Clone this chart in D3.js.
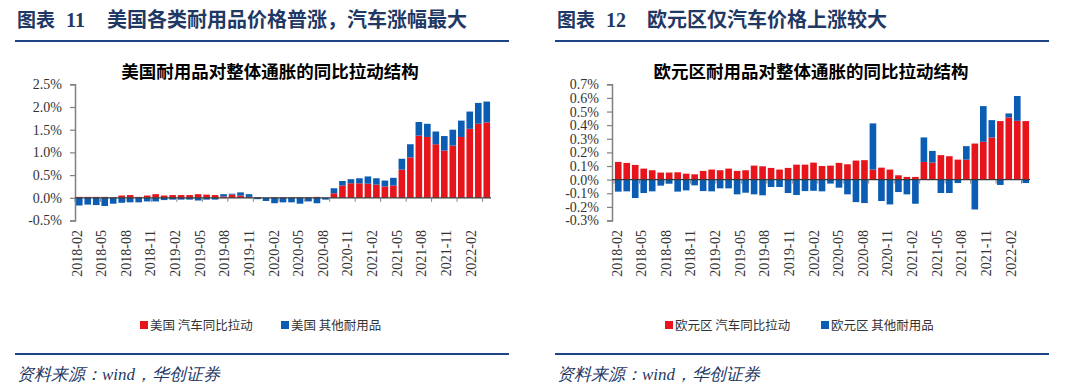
<!DOCTYPE html>
<html>
<head>
<meta charset="utf-8">
<script src="https://cdn.jsdelivr.net/npm/d3@7"></script>
<style>
  body { margin: 0; background: #fff; }
  svg { display: block; }
</style>
</head>
<body>
<div id="chart"></div>
<script>
// monthly categories, 2018-02 .. 2022-02
var months = [
    '2018-02', '2018-03', '2018-04', '2018-05', '2018-06', '2018-07', '2018-08', '2018-09', '2018-10', '2018-11', '2018-12',
    '2019-01', '2019-02', '2019-03', '2019-04', '2019-05', '2019-06', '2019-07', '2019-08', '2019-09', '2019-10', '2019-11', '2019-12',
    '2020-01', '2020-02', '2020-03', '2020-04', '2020-05', '2020-06', '2020-07', '2020-08', '2020-09', '2020-10', '2020-11', '2020-12',
    '2021-01', '2021-02', '2021-03', '2021-04', '2021-05', '2021-06', '2021-07', '2021-08', '2021-09', '2021-10', '2021-11', '2021-12',
    '2022-01', '2022-02'
];
var tickLabels = [
    '2018-02', '2018-05', '2018-08', '2018-11', '2019-02', '2019-05', '2019-08', '2019-11',
    '2020-02', '2020-05', '2020-08', '2020-11', '2021-02', '2021-05', '2021-08', '2021-11', '2022-02'
];

// US, pct points
var usCar = [
    0.02, 0.02, 0.02, 0.02, 0.01, 0.05, 0.06, 0.02, 0.05, 0.08, 0.05, 0.06, 0.06, 0.06, 0.08, 0.07, 0.06,
    0.03, 0.07, 0.05, 0.02, 0.01, 0.00, 0.01, 0.01, 0.01, 0.01, 0.01, 0.02, 0.00, 0.10, 0.27, 0.32,
    0.32, 0.31, 0.29, 0.25, 0.27, 0.62, 0.89, 1.37, 1.34, 1.18, 1.04, 1.15, 1.34, 1.52, 1.63, 1.66
];
var usOther = [
    -0.17, -0.15, -0.16, -0.18, -0.13, -0.11, -0.10, -0.10, -0.08, -0.08, -0.05, -0.04, -0.04, -0.04, -0.06, -0.04, -0.04,
    0.05, 0.02, 0.07, 0.06, -0.03, -0.07, -0.12, -0.10, -0.10, -0.13, -0.08, -0.12, -0.04, 0.11, 0.10, 0.09,
    0.11, 0.16, 0.14, 0.13, 0.17, 0.24, 0.29, 0.30, 0.29, 0.28, 0.32, 0.35, 0.36, 0.38, 0.46, 0.46
];
var usTicks = [-0.5, 0.0, 0.5, 1.0, 1.5, 2.0, 2.5];

// Euro area, pct points
var euCar = [
    0.130, 0.123, 0.108, 0.081, 0.069, 0.052, 0.052, 0.054, 0.044, 0.039, 0.064, 0.074, 0.069, 0.081, 0.064, 0.069, 0.103,
    0.098, 0.086, 0.074, 0.086, 0.110, 0.110, 0.125, 0.100, 0.103, 0.123, 0.113, 0.140, 0.143, 0.074, 0.088, 0.074,
    0.032, 0.020, 0.020, 0.130, 0.125, 0.180, 0.172, 0.147, 0.147, 0.265, 0.278, 0.310, 0.430, 0.457, 0.432, 0.430
];
var euOther = [
    -0.088, -0.086, -0.135, -0.098, -0.086, -0.044, -0.030, -0.088, -0.079, -0.042, -0.084, -0.086, -0.064, -0.064, -0.108, -0.096, -0.108,
    -0.115, -0.054, -0.054, -0.098, -0.113, -0.084, -0.082, -0.086, -0.029, -0.059, -0.108, -0.165, -0.172, 0.339, -0.157, -0.182,
    -0.091, -0.108, -0.177, 0.180, 0.086, -0.098, -0.098, -0.025, 0.099, -0.219, 0.262, 0.127, -0.039, 0.029, 0.182, -0.025
];
var euTicks = [-0.3, -0.2, -0.1, 0.0, 0.1, 0.2, 0.3, 0.4, 0.5, 0.6, 0.7];

var red = '#e8141c';
var blue = '#0b5cb3';
var navy = '#1d4486';

var width = 1080;
var height = 390;

var svg = d3.select('#chart').append('svg')
    .attr('width', width)
    .attr('height', height);

var serif = '"Liberation Serif", "Times New Roman", serif';
var cjk = '"Noto Sans CJK SC", sans-serif';

function pct(v) {
    var s = Math.abs(v).toFixed(1) + '%';
    return (v < -1e-9 ? '-' : '') + s;
}

function drawPanel(o) {
    var g = svg.append('g').attr('transform', 'translate(' + o.dx + ',0)');

    // heading + rules
    g.append('text')
        .attr('x', 17).attr('y', 27)
        .attr('font-family', cjk).attr('font-weight', 'bold')
        .attr('font-size', 19).attr('fill', '#1f3864')
        .text('图表');
    g.append('text')
        .attr('x', 66).attr('y', 27)
        .attr('font-family', serif).attr('font-weight', 'bold')
        .attr('font-size', 20).attr('fill', '#1f3864')
        .text(o.num);
    g.append('text')
        .attr('x', 107).attr('y', 27)
        .attr('font-family', cjk).attr('font-weight', 'bold')
        .attr('font-size', 20).attr('fill', '#1f3864')
        .text(o.heading);
    g.append('line')
        .attr('x1', 15).attr('x2', 509).attr('y1', 41).attr('y2', 41)
        .attr('stroke', navy).attr('stroke-width', 2);
    g.append('line')
        .attr('x1', 15).attr('x2', 509).attr('y1', 354).attr('y2', 354)
        .attr('stroke', navy).attr('stroke-width', 2);
    g.append('text')
        .attr('x', 17).attr('y', 380)
        .attr('font-family', serif).attr('font-style', 'italic')
        .attr('font-size', 17).attr('fill', '#1f3864')
        .text('资料来源：wind，华创证券');

    // chart title
    g.append('text')
        .attr('x', o.titleX).attr('y', 78)
        .attr('text-anchor', 'middle')
        .attr('font-family', cjk).attr('font-weight', 'bold')
        .attr('font-size', 17.5).attr('fill', '#000')
        .text(o.title);

    var xScale = d3.scaleBand()
        .domain(months)
        .range([o.x0, o.x0 + 49 * 8.49])
        .paddingInner(0.22)
        .paddingOuter(0.11);
    var yScale = d3.scaleLinear()
        .domain([o.ticks[0], o.ticks[o.ticks.length - 1]])
        .range([220.5, 84.3]);

    var rows = months.map(function(m, i) {
        return { month: m, car: o.car[i], other: o.other[i] };
    });
    var series = d3.stack()
        .keys(['car', 'other'])
        .offset(d3.stackOffsetDiverging)(rows);
    var colors = { car: red, other: blue };

    g.append('g')
        .selectAll('g')
        .data(series)
        .enter()
        .append('g')
        .attr('fill', function(d) { return colors[d.key]; })
        .selectAll('rect')
        .data(function(d) { return d; })
        .enter()
        .append('rect')
        .attr('x', function(d) { return xScale(d.data.month); })
        .attr('width', xScale.bandwidth())
        .attr('y', function(d) { return yScale(Math.max(d[0], d[1])); })
        .attr('height', function(d) { return Math.abs(yScale(d[0]) - yScale(d[1])); });

    // y axis
    var yAxis = d3.axisLeft(yScale)
        .tickValues(o.ticks)
        .tickFormat(pct)
        .tickSizeInner(5)
        .tickSizeOuter(5)
        .tickPadding(8);
    var ya = g.append('g')
        .attr('transform', 'translate(' + o.axisX + ',0)')
        .call(yAxis);
    ya.select('.domain').attr('stroke', '#808080').attr('stroke-width', 1.5);
    ya.selectAll('.tick line').attr('stroke', '#808080').attr('stroke-width', 1.2);
    ya.selectAll('text')
        .attr('font-family', serif).attr('font-size', 14).attr('fill', '#333');

    // zero line with category ticks every 3 months
    var y0 = yScale(0);
    g.append('line')
        .attr('x1', o.axisX).attr('x2', xScale.range()[1])
        .attr('y1', y0).attr('y2', y0)
        .attr('stroke', '#3a3a3a').attr('stroke-width', 1.2);
    g.append('g')
        .selectAll('line')
        .data(tickLabels)
        .enter()
        .append('line')
        .attr('x1', function(d) { return xScale(d) - xScale.step() * xScale.paddingInner() / 2; })
        .attr('x2', function(d) { return xScale(d) - xScale.step() * xScale.paddingInner() / 2; })
        .attr('y1', y0).attr('y2', y0 + 4)
        .attr('stroke', '#808080').attr('stroke-width', 1);

    // rotated month labels
    var labelScale = d3.scalePoint().domain(tickLabels).range(o.labelRange);
    g.append('g')
        .selectAll('text')
        .data(tickLabels)
        .enter()
        .append('text')
        .attr('transform', function(d) { return 'translate(' + labelScale(d) + ',230) rotate(-90)'; })
        .attr('text-anchor', 'end')
        .attr('dominant-baseline', 'central')
        .attr('font-family', serif).attr('font-size', 14).attr('fill', '#333')
        .text(function(d) { return d; });

    // legend
    var leg = g.append('g');
    o.legend.forEach(function(l, i) {
        leg.append('rect')
            .attr('x', l.x).attr('y', 321)
            .attr('width', 8).attr('height', 8)
            .attr('fill', i === 0 ? red : blue);
        leg.append('text')
            .attr('x', l.x + 10).attr('y', 329.5)
            .attr('font-family', cjk).attr('font-size', 12.5).attr('fill', '#333')
            .text(l.text);
    });
}

drawPanel({
    dx: 0,
    num: '11',
    heading: '美国各类耐用品价格普涨，汽车涨幅最大',
    title: '美国耐用品对整体通胀的同比拉动结构',
    titleX: 270,
    x0: 75,
    axisX: 75,
    ticks: usTicks,
    car: usCar,
    other: usOther,
    labelRange: [77, 471],
    legend: [{ x: 140, text: '美国 汽车同比拉动' }, { x: 281, text: '美国 其他耐用品' }]
});

drawPanel({
    dx: 540,
    num: '12',
    heading: '欧元区仅汽车价格上涨较大',
    title: '欧元区耐用品对整体通胀的同比拉动结构',
    titleX: 271,
    x0: 74,
    axisX: 72,
    ticks: euTicks,
    car: euCar,
    other: euOther,
    labelRange: [77, 471],
    legend: [{ x: 125, text: '欧元区 汽车同比拉动' }, { x: 281, text: '欧元区 其他耐用品' }]
});
</script>
</body>
</html>
